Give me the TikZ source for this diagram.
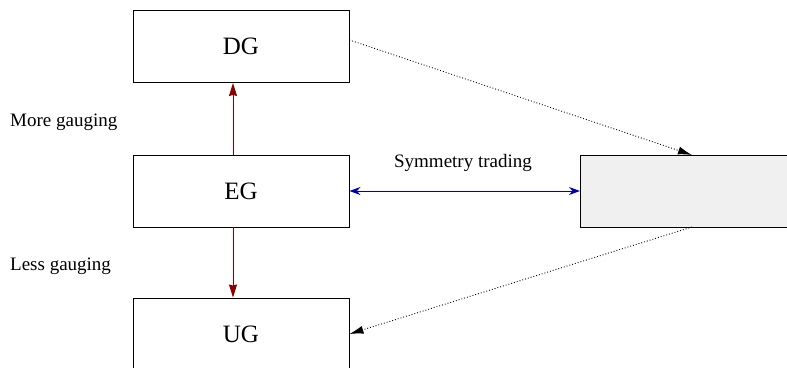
\documentclass[tikz,border=0pt]{standalone}
\usepackage{fontspec}
\setmainfont{Liberation Serif}
\usetikzlibrary{arrows.meta}
\definecolor{arrred}{RGB}{139,0,0}
\definecolor{arrblue}{RGB}{0,0,180}
\definecolor{boxgray}{RGB}{240,240,240}
\begin{document}
\begin{tikzpicture}[x=1pt,y=-1pt,
  gbox/.style={draw=black, line width=0.9pt, minimum width=216pt, minimum height=72pt, inner sep=0pt, font=\fontsize{25}{30}\selectfont},
  sidelabel/.style={anchor=west, inner sep=0pt, font=\fontsize{19}{23}\selectfont},
  redarr/.style={draw=arrred, line width=1pt, -{Stealth[length=13pt,width=8pt,inset=1pt]}},
  bluearr/.style={draw=arrblue, line width=1pt, {Stealth[length=11pt,width=8pt,inset=3.5pt]}-{Stealth[length=11pt,width=8pt,inset=3.5pt]}},
  dotarr/.style={draw=black, line width=0.9pt, dotted, -{Latex[length=14pt,width=8pt]}}]
\useasboundingbox (0,0) rectangle (787,367);
\node[gbox] (DG) at (241,46.5) {DG};
\node[gbox] (EG) at (241,191) {EG};
\node[gbox] (UG) at (241,334) {UG};
\node[gbox, fill=boxgray, minimum width=240pt, anchor=west] (R) at (580,191) {};
\coordinate (Rtop) at (692,155);
\coordinate (Rbot) at (692,227);
\node[sidelabel] (more) at (10,122) {More gauging};
\node[sidelabel] (less) at (10,266) {Less gauging};
\draw[redarr] ([xshift=-8pt]EG.north) -- ([xshift=-8pt]DG.south);
\draw[redarr] ([xshift=-8pt]EG.south) -- ([xshift=-8pt]UG.north);
\draw[bluearr] (EG.east) -- (R.west);
\node[font=\fontsize{19}{23}\selectfont] (st) at (463,163) {Symmetry trading};
\draw[dotarr] ([yshift=6.5pt]DG.east) -- (Rtop);
\draw[dotarr] (Rbot) -- (UG.east);
\end{tikzpicture}
\end{document}
